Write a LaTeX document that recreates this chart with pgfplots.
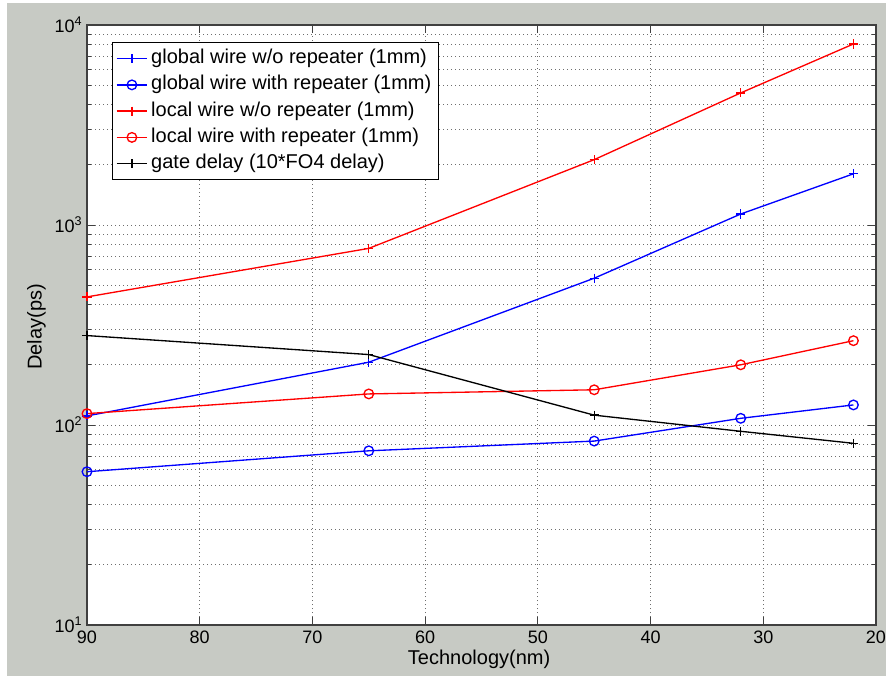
\documentclass[border=0pt]{standalone}
\usepackage{pgfplots}
\pgfplotsset{compat=1.18}
\usepackage{fontspec}
\setmainfont{Liberation Sans}
\definecolor{figbg}{RGB}{199,202,196}
\definecolor{gridc}{RGB}{110,110,110}
\begin{document}
\begin{tikzpicture}
\fill[white] (-65.25pt,-38.25pt) rectangle (599.25pt,468.75pt);
\fill[figbg] (-60pt,-38.25pt) rectangle (599.25pt,466.5pt);
\begin{axis}[
  at={(0pt,0pt)}, anchor=south west,
  scale only axis, width=591.75pt, height=450pt,
  x dir=reverse, xmin=20, xmax=90,
  ymode=log, ymin=10, ymax=10000,
  axis background/.style={fill=white},
  axis line style={black!75, line width=0.8pt},
  xtick={90,80,70,60,50,40,30,20},
  xticklabels={90,80,70,60,50,40,30,20},
  ytick={10,100,1000,10000},
  yticklabels={10\textsuperscript{1},10\textsuperscript{2},10\textsuperscript{3},10\textsuperscript{4}},
  minor x tick num=0,
  tick align=inside,
  major tick length=6pt, minor tick length=3pt,
  every tick/.style={black!75, line width=0.6pt},
  xmajorgrids=true, ymajorgrids=true, yminorgrids=true,
  major grid style={gridc, line width=0.6pt, dash pattern=on 0.75pt off 2.25pt},
  minor grid style={gridc, line width=0.6pt, dash pattern=on 0.75pt off 2.25pt},
  ticklabel style={font=\fontsize{13.5}{15}\selectfont},
  xticklabel style={yshift=-1pt},
  xlabel={Technology(nm)},
  ylabel={Delay(ps)},
  xlabel style={font=\fontsize{15}{17}\selectfont, at={(axis description cs:0.497,-0.057)}, anchor=center},
  ylabel style={font=\fontsize{15}{17}\selectfont, at={(axis description cs:-0.064,0.497)}, anchor=center},
  legend style={at={(axis description cs:0.0313,0.971)}, anchor=north west,
    draw=black, fill=white, line width=0.6pt,
    font=\fontsize{15}{17}\selectfont,
    nodes={text height=11pt, text depth=3.5pt, inner sep=2.6pt},
    inner xsep=3pt, inner ysep=2pt},
  legend cell align=left,
  legend image code/.code={\draw[mark repeat=2,mark phase=2] plot coordinates {(0cm,0cm) (0.4cm,0cm) (0.8cm,0cm)};},
  every axis plot/.append style={line width=1pt},
]
\addplot[blue, mark=+, mark size=3.4pt] coordinates {(90,111) (65,206) (45,542) (32,1135) (22,1803)};
\addlegendentry{global wire w/o repeater (1mm)}
\addplot[blue, mark=o, mark size=3.6pt] coordinates {(90,58.4) (65,74.3) (45,83.1) (32,108) (22,126)};
\addlegendentry{global wire with repeater (1mm)}
\addplot[red, mark=+, mark size=3.4pt] coordinates {(90,437) (65,764) (45,2122) (32,4575) (22,8037)};
\addlegendentry{local wire w/o repeater (1mm)}
\addplot[red, mark=o, mark size=3.6pt] coordinates {(90,114) (65,143) (45,150) (32,200) (22,264)};
\addlegendentry{local wire with repeater (1mm)}
\addplot[black, mark=+, mark size=3.4pt] coordinates {(90,280) (65,225) (45,112) (32,93) (22,81)};
\addlegendentry{gate delay (10*FO4 delay)}
\end{axis}
\pgfresetboundingbox
\useasboundingbox (-65.25pt,-38.25pt) rectangle (599.25pt,468.75pt);
\end{tikzpicture}
\end{document}
